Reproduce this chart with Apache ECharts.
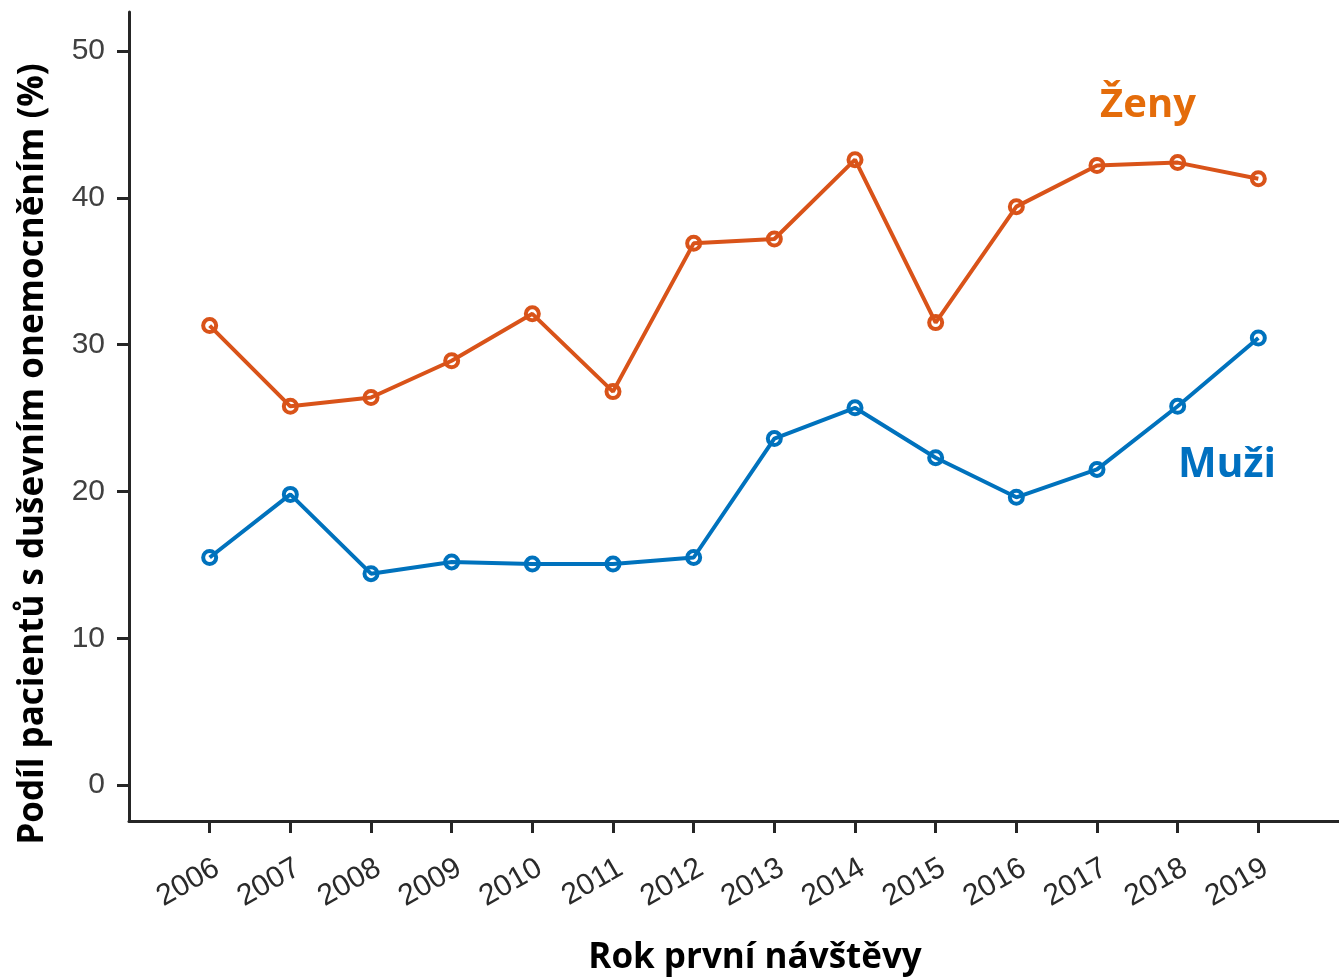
<!DOCTYPE html>
<html><head><meta charset="utf-8">
<script src="https://cdn.jsdelivr.net/npm/echarts@6/dist/echarts.min.js"></script>
<style>html,body{margin:0;padding:0;background:#fff}#c{width:1339px;height:977px}</style>
</head><body><div id="c"></div>
<script>
const years = [2006,2007,2008,2009,2010,2011,2012,2013,2014,2015,2016,2017,2018,2019];
const zeny = [31.3,25.8,26.4,28.9,32.1,26.8,36.9,37.2,42.6,31.5,39.4,42.2,42.4,41.3];
const muzi = [15.5,19.8,14.4,15.2,15.05,15.05,15.5,23.6,25.7,22.3,19.6,21.5,25.8,30.45];
const yTicks = [0,10,20,30,40,50];
const yTitle = 'Podíl pacientů s duševním onemocněním (%)';
const xTitle = 'Rok první návštěvy';
const zenyLabel = 'Ženy';
const muziLabel = 'Muži';

const chart = echarts.init(document.getElementById('c'));
const axisCol = '#262626';
const pair = (arr) => years.map((y,i)=>[y,arr[i]]);
chart.setOption({
  animation:false,
  grid:{left:129,right:0,top:12,bottom:156,containLabel:false},
  xAxis:{type:'value',min:2005,max:2020,
    axisLine:{show:true,onZero:false,lineStyle:{color:axisCol,width:3}},
    axisTick:{show:true,length:12,lineStyle:{color:axisCol,width:3},customValues:years},
    axisLabel:{customValues:years,formatter:(v)=>String(v),rotate:30,margin:32,verticalAlign:'top',fontSize:30,color:'#2a2a2a',fontFamily:'Liberation Sans, Arial'},
    splitLine:{show:false}},
  yAxis:{type:'value',min:-2.45,max:52.66,
    axisLine:{show:true,onZero:false,lineStyle:{color:axisCol,width:3}},
    axisTick:{show:true,length:12,lineStyle:{color:axisCol,width:3},customValues:yTicks},
    axisLabel:{customValues:yTicks,margin:24,fontSize:30,color:'#404040',fontFamily:'Liberation Sans, Arial'},
    splitLine:{show:false}},
  series:[
    {type:'line',data:pair(zeny),symbol:'circle',symbolSize:13,
      lineStyle:{color:'#D95319',width:4},
      itemStyle:{color:'rgba(255,255,255,0)',borderColor:'#D95319',borderWidth:4}},
    {type:'line',data:pair(muzi),symbol:'circle',symbolSize:13,
      lineStyle:{color:'#0072BD',width:4},
      itemStyle:{color:'rgba(255,255,255,0)',borderColor:'#0072BD',borderWidth:4}}
  ],
  graphic:[
    {type:'text',x:33,y:454,rotation:Math.PI/2,style:{text:yTitle,font:'bold 35px "Open Sans"',fill:'#000',align:'center',verticalAlign:'middle'}},
    {type:'text',x:755,y:958,style:{text:xTitle,font:'bold 35px "Open Sans"',fill:'#000',align:'center',verticalAlign:'middle'}},
    {type:'text',x:1148,y:106,style:{text:zenyLabel,font:'bold 40px "Open Sans"',fill:'#E46C0A',align:'center',verticalAlign:'middle'}},
    {type:'text',x:1227,y:465,style:{text:muziLabel,font:'bold 41px "Open Sans"',fill:'#0070C0',align:'center',verticalAlign:'middle'}}
  ]
});
</script></body></html>
